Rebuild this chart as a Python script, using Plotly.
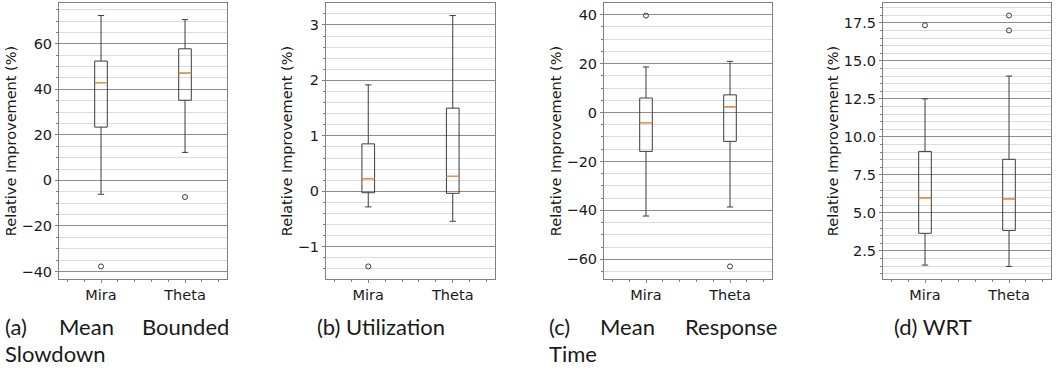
import plotly.graph_objects as go

# Box-plot summaries (whisker low, Q1, median, Q3, whisker high) and fliers
categories = ["Mira", "Theta"]

bsld_low = [-6.1, 12.3]
bsld_q1 = [23.4, 35.2]
bsld_med = [42.9, 47.1]
bsld_q3 = [52.4, 57.8]
bsld_high = [72.4, 70.6]
bsld_fliers = [[-37.8], [-7.3]]

util_low = [-0.28, -0.54]
util_q1 = [-0.025, -0.036]
util_med = [0.227, 0.27]
util_q3 = [0.856, 1.5]
util_high = [1.92, 3.17]
util_fliers = [[-1.355], []]

resp_low = [-42.3, -38.6]
resp_q1 = [-15.9, -11.8]
resp_med = [-4.2, 2.3]
resp_q3 = [5.9, 7.2]
resp_high = [18.6, 20.9]
resp_fliers = [[39.6], [-62.9]]

wrt_low = [1.56, 1.47]
wrt_q1 = [3.65, 3.84]
wrt_med = [5.98, 5.92]
wrt_q3 = [9.04, 8.52]
wrt_high = [12.5, 14.0]
wrt_fliers = [[17.34], [17.98, 17.0]]

panels = [
    dict(low=bsld_low, q1=bsld_q1, med=bsld_med, q3=bsld_q3, high=bsld_high,
         fliers=bsld_fliers, dtick=20, minor=5, fmt=None),
    dict(low=util_low, q1=util_q1, med=util_med, q3=util_q3, high=util_high,
         fliers=util_fliers, dtick=1, minor=0.2, fmt=None),
    dict(low=resp_low, q1=resp_q1, med=resp_med, q3=resp_q3, high=resp_high,
         fliers=resp_fliers, dtick=20, minor=5, fmt=None),
    dict(low=wrt_low, q1=wrt_q1, med=wrt_med, q3=wrt_q3, high=wrt_high,
         fliers=wrt_fliers, dtick=2.5, minor=0.5, fmt=".1f"),
]

W, H = 1059, 371
frames = [(59, 227), (326, 495), (604, 772), (883, 1051)]
plot_top, plot_bottom = 3, 279

BOX_COLOR = "#3c3c3c"
MEDIAN_COLOR = "#ff9a3c"
MAJOR_GRID = "#8c8c8c"
MINOR_GRID = "#dcdcdc"
FRAME = "#808080"
TICK_FONT = dict(family="DejaVu Sans", size=14.5, color="#1a1a1a")

fig = go.Figure()
layout = {}

for i, p in enumerate(panels):
    ax = "" if i == 0 else str(i + 1)
    xref, yref = "x" + ax, "y" + ax
    for j, cat in enumerate(categories):
        pos = j + 1
        fig.add_trace(go.Box(
            x=[pos], q1=[p["q1"][j]], median=[p["med"][j]], q3=[p["q3"][j]],
            lowerfence=[p["low"][j]], upperfence=[p["high"][j]],
            width=0.15, whiskerwidth=0.5, boxpoints=False,
            line=dict(color=BOX_COLOR, width=1), fillcolor="rgba(0,0,0,0)",
            xaxis=xref, yaxis=yref, showlegend=False, hoverinfo="skip",
        ))
        # orange median bar drawn as a zero-height box
        m = p["med"][j]
        fig.add_trace(go.Box(
            x=[pos], q1=[m], median=[m], q3=[m], lowerfence=[m], upperfence=[m],
            width=0.15, whiskerwidth=0, boxpoints=False,
            line=dict(color=MEDIAN_COLOR, width=0.7), fillcolor="rgba(0,0,0,0)",
            xaxis=xref, yaxis=yref, showlegend=False, hoverinfo="skip",
        ))
        if p["fliers"][j]:
            fig.add_trace(go.Scatter(
                x=[pos] * len(p["fliers"][j]), y=p["fliers"][j], mode="markers",
                marker=dict(symbol="circle-open", size=5, color=BOX_COLOR,
                            line=dict(color=BOX_COLOR, width=1)),
                xaxis=xref, yaxis=yref, showlegend=False, hoverinfo="skip",
            ))

    allv = p["low"] + p["high"] + [v for f in p["fliers"] for v in f]
    lo, hi = min(allv), max(allv)
    pad = 0.05 * (hi - lo)

    x0, x1 = frames[i]
    layout["xaxis" + ax] = dict(
        domain=[x0 / W, x1 / W], anchor=yref, range=[0.5, 2.5],
        tickmode="array", tickvals=[1, 2], ticktext=categories,
        ticks="outside", ticklen=3, tickcolor=FRAME, showgrid=False,
        zeroline=False, showline=True, linecolor=FRAME, linewidth=1, mirror=True,
        tickfont=TICK_FONT,
        minor=dict(tickmode="linear", tick0=0, dtick=0.2, ticks="outside",
                   ticklen=2, tickcolor=FRAME, showgrid=False),
    )
    yax = dict(
        domain=[1 - plot_bottom / H, 1 - plot_top / H], anchor=xref,
        range=[lo - pad, hi + pad], tick0=0, dtick=p["dtick"],
        ticks="outside", ticklen=3, tickcolor=FRAME,
        showgrid=True, gridcolor=MAJOR_GRID, gridwidth=1,
        zeroline=False, showline=True, linecolor=FRAME, linewidth=1, mirror=True,
        tickfont=TICK_FONT,
        title=dict(text="Relative Improvement (%)", font=TICK_FONT, standoff=1),
        minor=dict(tick0=0, dtick=p["minor"], ticks="outside", ticklen=2,
                   tickcolor=FRAME, showgrid=True, gridcolor=MINOR_GRID, gridwidth=1),
    )
    if p["fmt"]:
        yax["tickformat"] = p["fmt"]
    layout["yaxis" + ax] = yax

# sub-figure captions
CAP_FONT = dict(family="Lato", size=22, color="#1a1a1a")
captions = [
    ("(a)", 3, 326), ("Mean", 57, 326), ("Bounded", 140, 326), ("Slowdown", 3, 353),
    ("(b) Utilization", 315, 326),
    ("(c)", 547, 326), ("Mean", 598, 326), ("Response", 683, 326), ("Time", 547, 353),
    ("(d) WRT", 892, 326),
]
annotations = [
    dict(text=t, x=px / W, y=1 - py / H, xref="paper", yref="paper",
         xanchor="left", yanchor="middle", showarrow=False, font=CAP_FONT)
    for t, px, py in captions
]

fig.update_layout(
    width=W, height=H, margin=dict(l=0, r=0, t=0, b=0),
    paper_bgcolor="white", plot_bgcolor="white", boxmode="overlay",
    annotations=annotations, **layout,
)

fig.write_html("out.html")
